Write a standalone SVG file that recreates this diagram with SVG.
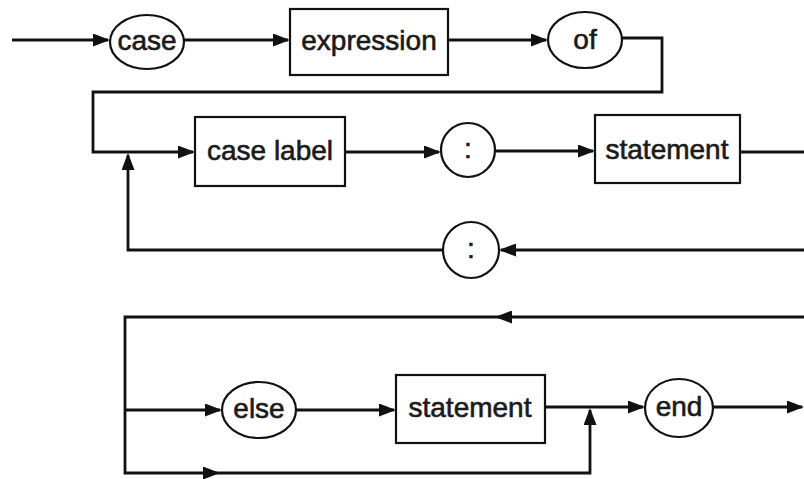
<svg xmlns="http://www.w3.org/2000/svg" width="804" height="479" viewBox="0 0 804 479">
<style>
.sh{fill:#fff;stroke:#111;stroke-width:2.2}
.t{font-family:"Liberation Sans",Arial,sans-serif;font-size:28px;fill:#1a1a1a;stroke:#1a1a1a;stroke-width:0.6;text-anchor:middle}
.c{fill:none;stroke:#111;stroke-width:2.8}
</style>
<defs>
<marker id="ah" markerWidth="17" markerHeight="13" refX="15" refY="6.5" orient="auto" markerUnits="userSpaceOnUse"><path d="M0,0 L17,6.5 L0,13 z" fill="#111"/></marker>
</defs>
<rect width="804" height="479" fill="#fff"/>
<g id="connectors">
<path class="c" d="M12,40 H108" marker-end="url(#ah)"/>
<path class="c" d="M184,40 H288" marker-end="url(#ah)"/>
<path class="c" d="M448,40 H546" marker-end="url(#ah)"/>
<path class="c" d="M622,38 H662 V92 H93 V152 H193" marker-end="url(#ah)"/>
<path class="c" d="M345,152 H439" marker-end="url(#ah)"/>
<path class="c" d="M495,151 H593" marker-end="url(#ah)"/>
<path class="c" d="M740,152 H804"/>
<path class="c" d="M804,250 H501" marker-end="url(#ah)"/>
<path class="c" d="M443,250 H128 V155" marker-end="url(#ah)"/>
<path class="c" d="M804,317 H497" marker-end="url(#ah)"/>
<path class="c" d="M497,317 H125 V473 H218" marker-end="url(#ah)"/>
<path class="c" d="M218,473 H590 V410" marker-end="url(#ah)"/>
<path class="c" d="M125,410 H220" marker-end="url(#ah)"/>
<path class="c" d="M296,410 H394" marker-end="url(#ah)"/>
<path class="c" d="M545,407 H643" marker-end="url(#ah)"/>
<path class="c" d="M713,407 H802" marker-end="url(#ah)"/>
</g>
<g id="case"><ellipse class="sh" cx="147" cy="42" rx="37" ry="27"/><text class="t" x="147" y="50">case</text></g>
<g id="expression"><rect class="sh" x="290" y="9" width="158" height="66"/><text class="t" x="369" y="50">expression</text></g>
<g id="of"><ellipse class="sh" cx="585" cy="40" rx="37" ry="28"/><text class="t" x="585" y="49">of</text></g>
<g id="case-label"><rect class="sh" x="195" y="117" width="150" height="69"/><text class="t" x="270" y="160">case label</text></g>
<g id="colon1"><circle class="sh" cx="468" cy="150" r="27"/><text class="t" x="468" y="158">:</text></g>
<g id="statement1"><rect class="sh" x="595" y="115" width="145" height="68"/><text class="t" x="667" y="159">statement</text></g>
<g id="colon2"><circle class="sh" cx="471" cy="250" r="28"/><text class="t" x="471" y="258">:</text></g>
<g id="else"><ellipse class="sh" cx="259" cy="410" rx="37" ry="28"/><text class="t" x="259" y="418">else</text></g>
<g id="statement2"><rect class="sh" x="396" y="375" width="149" height="68"/><text class="t" x="470" y="417">statement</text></g>
<g id="end"><ellipse class="sh" cx="679" cy="408" rx="34" ry="29"/><text class="t" x="679" y="416">end</text></g>
</svg>
